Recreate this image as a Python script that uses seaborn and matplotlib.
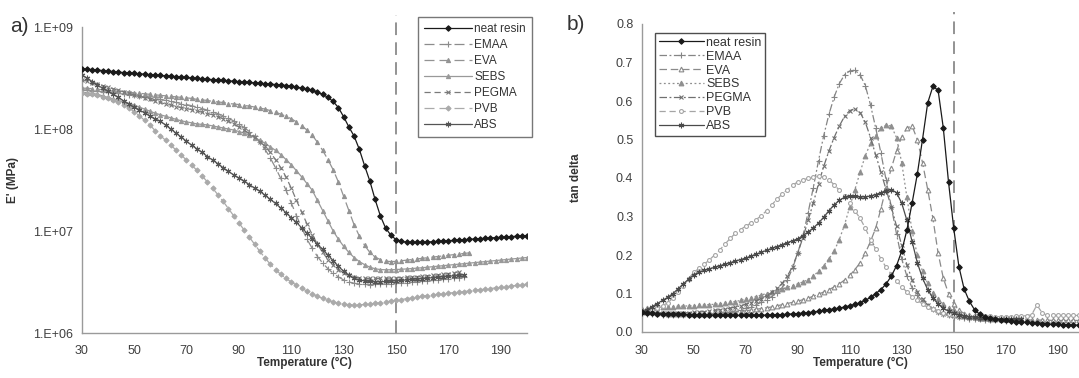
import numpy as np
import matplotlib
matplotlib.use("Agg")
import matplotlib.pyplot as plt
import seaborn as sns

sns.set_style("white")
plt.rcParams['font.family'] = ['Liberation Sans', 'DejaVu Sans']

# ---------------- data ----------------
series = ["neat resin", "EMAA", "EVA", "SEBS", "PEGMA", "PVB", "ABS"]
T_START = 30   # first temperature (°C)
T_STEP = 2     # sampling step (°C)

# (a) storage modulus E', read as log10(E') values
logE_neat = [8.59, 8.586, 8.582, 8.578, 8.573, 8.568, 8.563, 8.558, 8.553, 8.549, 8.545, 8.541, 8.537, 8.533,
             8.529, 8.525, 8.521, 8.517, 8.513, 8.509, 8.505, 8.50, 8.496, 8.492, 8.488, 8.484, 8.48, 8.476,
             8.472, 8.468, 8.464, 8.46, 8.456, 8.452, 8.448, 8.444, 8.44, 8.436, 8.432, 8.426, 8.42, 8.412,
             8.40, 8.39, 8.378, 8.36, 8.34, 8.31, 8.27, 8.21, 8.12, 8.02, 7.93, 7.80, 7.64, 7.49, 7.31, 7.15,
             7.03, 6.96, 6.915, 6.90, 6.89, 6.888, 6.888, 6.89, 6.892, 6.895, 6.898, 6.902, 6.905, 6.908,
             6.912, 6.915, 6.918, 6.922, 6.925, 6.928, 6.932, 6.935, 6.938, 6.942, 6.945, 6.948, 6.952, 6.955]
logE_emaa = [8.38, 8.378, 8.375, 8.37, 8.365, 8.36, 8.355, 8.35, 8.343, 8.336, 8.33, 8.322, 8.314, 8.306,
             8.298, 8.29, 8.28, 8.27, 8.26, 8.25, 8.24, 8.228, 8.215, 8.20, 8.185, 8.17, 8.15, 8.13, 8.105,
             8.08, 8.05, 8.015, 7.975, 7.93, 7.87, 7.80, 7.715, 7.62, 7.515, 7.40, 7.275, 7.15, 7.03, 6.92,
             6.83, 6.75, 6.685, 6.63, 6.585, 6.55, 6.52, 6.50, 6.488, 6.48, 6.476, 6.475, 6.476, 6.478, 6.48,
             6.483, 6.486, 6.49, 6.494, 6.498, 6.502, 6.506, 6.51, 6.515, 6.52, 6.526, 6.532, 6.538, 6.544, 6.55]
logE_eva = [8.40, 8.40, 8.395, 8.39, 8.385, 8.38, 8.375, 8.37, 8.365, 8.36, 8.355, 8.35, 8.345, 8.34, 8.335,
            8.33, 8.325, 8.32, 8.315, 8.31, 8.305, 8.30, 8.29, 8.285, 8.28, 8.27, 8.265, 8.26, 8.25, 8.245,
            8.24, 8.23, 8.225, 8.215, 8.205, 8.195, 8.18, 8.165, 8.145, 8.125, 8.10, 8.07, 8.03, 7.99, 7.94,
            7.87, 7.79, 7.70, 7.60, 7.48, 7.34, 7.20, 7.06, 6.95, 6.86, 6.79, 6.745, 6.72, 6.705, 6.70, 6.702,
            6.708, 6.714, 6.72, 6.726, 6.732, 6.738, 6.744, 6.75, 6.756, 6.762, 6.768, 6.774, 6.78, 6.786]
logE_sebs = [8.36, 8.355, 8.35, 8.34, 8.325, 8.31, 8.295, 8.28, 8.265, 8.25, 8.235, 8.215, 8.195, 8.175,
             8.155, 8.14, 8.125, 8.11, 8.095, 8.08, 8.07, 8.06, 8.05, 8.045, 8.04, 8.03, 8.02, 8.01, 8.00,
             7.99, 7.975, 7.96, 7.94, 7.915, 7.89, 7.86, 7.825, 7.79, 7.75, 7.70, 7.65, 7.59, 7.53, 7.465,
             7.40, 7.30, 7.20, 7.10, 7.00, 6.92, 6.85, 6.79, 6.74, 6.70, 6.67, 6.645, 6.63, 6.622, 6.62, 6.62,
             6.622, 6.625, 6.628, 6.632, 6.636, 6.64, 6.645, 6.65, 6.655, 6.66, 6.665, 6.67, 6.675, 6.68,
             6.685, 6.69, 6.695, 6.70, 6.705, 6.71, 6.715, 6.72, 6.725, 6.73, 6.735, 6.74]
logE_pegma = [8.48, 8.47, 8.455, 8.44, 8.425, 8.41, 8.395, 8.38, 8.365, 8.35, 8.335, 8.32, 8.305, 8.29,
              8.275, 8.26, 8.245, 8.235, 8.22, 8.21, 8.20, 8.19, 8.175, 8.165, 8.15, 8.14, 8.12, 8.10, 8.075,
              8.05, 8.02, 7.99, 7.955, 7.92, 7.875, 7.83, 7.77, 7.70, 7.62, 7.53, 7.42, 7.30, 7.185, 7.07,
              6.965, 6.87, 6.79, 6.72, 6.665, 6.62, 6.59, 6.565, 6.55, 6.54, 6.536, 6.535, 6.535, 6.536,
              6.537, 6.539, 6.541, 6.544, 6.547, 6.55, 6.553, 6.557, 6.561, 6.566, 6.571, 6.577, 6.583,
              6.59, 6.60]
logE_pvb = [8.35, 8.345, 8.34, 8.33, 8.315, 8.30, 8.28, 8.26, 8.235, 8.205, 8.17, 8.13, 8.085, 8.04, 7.985,
            7.935, 7.89, 7.84, 7.795, 7.745, 7.695, 7.645, 7.595, 7.54, 7.48, 7.42, 7.355, 7.29, 7.22, 7.15,
            7.08, 7.01, 6.94, 6.87, 6.80, 6.735, 6.675, 6.62, 6.575, 6.535, 6.50, 6.47, 6.44, 6.41, 6.385,
            6.36, 6.34, 6.32, 6.305, 6.29, 6.282, 6.278, 6.276, 6.276, 6.28, 6.285, 6.29, 6.297, 6.305,
            6.312, 6.32, 6.328, 6.336, 6.344, 6.352, 6.36, 6.367, 6.373, 6.379, 6.385, 6.39, 6.396, 6.40,
            6.406, 6.412, 6.418, 6.424, 6.43, 6.436, 6.442, 6.448, 6.454, 6.46, 6.466, 6.472, 6.478]
logE_abs = [8.53, 8.50, 8.465, 8.43, 8.40, 8.37, 8.34, 8.31, 8.275, 8.245, 8.215, 8.185, 8.16, 8.13, 8.10,
            8.075, 8.04, 8.00, 7.96, 7.92, 7.88, 7.84, 7.805, 7.77, 7.73, 7.695, 7.66, 7.62, 7.585, 7.55,
            7.52, 7.49, 7.455, 7.42, 7.39, 7.35, 7.31, 7.27, 7.225, 7.18, 7.13, 7.085, 7.03, 6.98, 6.925,
            6.87, 6.82, 6.765, 6.71, 6.655, 6.605, 6.565, 6.535, 6.52, 6.51, 6.505, 6.502, 6.502, 6.505,
            6.508, 6.512, 6.516, 6.52, 6.525, 6.53, 6.534, 6.538, 6.542, 6.547, 6.552, 6.556, 6.56, 6.565, 6.57]

# (b) tan delta
tan_neat = [0.052, 0.05, 0.049, 0.048, 0.047, 0.047, 0.046, 0.046, 0.046, 0.045, 0.045, 0.045, 0.044, 0.044,
            0.044, 0.044, 0.044, 0.043, 0.043, 0.043, 0.043, 0.043, 0.043, 0.043, 0.044, 0.044, 0.045, 0.045,
            0.046, 0.047, 0.048, 0.049, 0.05, 0.052, 0.054, 0.056, 0.058, 0.06, 0.062, 0.065, 0.068, 0.072,
            0.076, 0.082, 0.09, 0.10, 0.11, 0.125, 0.145, 0.172, 0.21, 0.265, 0.335, 0.41, 0.50, 0.595,
            0.638, 0.628, 0.53, 0.39, 0.27, 0.17, 0.112, 0.08, 0.058, 0.046, 0.04, 0.036, 0.034, 0.032, 0.03,
            0.028, 0.027, 0.026, 0.025, 0.024, 0.023, 0.022, 0.021, 0.02, 0.02, 0.019, 0.019, 0.018, 0.018, 0.018]
tan_emaa = [0.05, 0.048, 0.047, 0.046, 0.045, 0.044, 0.044, 0.043, 0.043, 0.043, 0.043, 0.043, 0.044, 0.045,
            0.046, 0.048, 0.05, 0.052, 0.055, 0.058, 0.062, 0.066, 0.071, 0.077, 0.084, 0.092, 0.102, 0.115,
            0.135, 0.165, 0.205, 0.25, 0.31, 0.375, 0.445, 0.51, 0.565, 0.61, 0.645, 0.668, 0.678, 0.68,
            0.668, 0.64, 0.59, 0.53, 0.465, 0.395, 0.325, 0.255, 0.19, 0.145, 0.115, 0.095, 0.08, 0.068,
            0.059, 0.052, 0.047, 0.043, 0.04, 0.038, 0.036, 0.035, 0.034, 0.033, 0.032, 0.031, 0.03, 0.03,
            0.029, 0.029, 0.028, 0.028]
tan_eva = [0.055, 0.053, 0.051, 0.05, 0.049, 0.048, 0.048, 0.047, 0.047, 0.047, 0.047, 0.047, 0.047, 0.048,
           0.048, 0.049, 0.05, 0.051, 0.052, 0.053, 0.055, 0.057, 0.059, 0.061, 0.063, 0.065, 0.068, 0.071,
           0.074, 0.077, 0.08, 0.084, 0.088, 0.093, 0.098, 0.104, 0.11, 0.117, 0.125, 0.135, 0.147, 0.162,
           0.18, 0.205, 0.235, 0.27, 0.32, 0.375, 0.425, 0.47, 0.507, 0.53, 0.535, 0.50, 0.44, 0.37, 0.295,
           0.205, 0.14, 0.10, 0.072, 0.057, 0.048, 0.042, 0.039, 0.037, 0.036, 0.035, 0.034, 0.034, 0.033,
           0.033, 0.032, 0.032, 0.032, 0.031, 0.031, 0.031, 0.031, 0.03, 0.03, 0.03, 0.03, 0.03, 0.03, 0.03]
tan_sebs = [0.06, 0.062, 0.063, 0.064, 0.065, 0.066, 0.066, 0.067, 0.067, 0.068, 0.068, 0.069, 0.07, 0.071,
            0.072, 0.073, 0.075, 0.077, 0.079, 0.082, 0.085, 0.088, 0.092, 0.096, 0.10, 0.104, 0.108, 0.112,
            0.116, 0.12, 0.125, 0.13, 0.136, 0.145, 0.158, 0.172, 0.19, 0.21, 0.24, 0.278, 0.325, 0.37,
            0.415, 0.458, 0.49, 0.51, 0.53, 0.537, 0.535, 0.505, 0.44, 0.35, 0.262, 0.20, 0.158, 0.126,
            0.102, 0.085, 0.072, 0.063, 0.056, 0.05, 0.046, 0.043, 0.041, 0.039, 0.038, 0.037, 0.036, 0.035,
            0.035, 0.034, 0.034, 0.034, 0.033]
tan_pegma = [0.055, 0.053, 0.052, 0.051, 0.05, 0.05, 0.05, 0.05, 0.05, 0.05, 0.051, 0.052, 0.053, 0.054,
             0.056, 0.058, 0.06, 0.062, 0.065, 0.068, 0.072, 0.076, 0.081, 0.087, 0.094, 0.103, 0.113, 0.126,
             0.145, 0.17, 0.205, 0.245, 0.29, 0.335, 0.385, 0.43, 0.47, 0.505, 0.535, 0.56, 0.575, 0.58,
             0.57, 0.545, 0.505, 0.46, 0.415, 0.37, 0.325, 0.275, 0.225, 0.175, 0.135, 0.105, 0.085, 0.07,
             0.06, 0.053, 0.048, 0.045, 0.042, 0.04, 0.038, 0.037, 0.036, 0.035, 0.034, 0.034, 0.033, 0.033,
             0.032, 0.032, 0.031]
tan_pvb = [0.052, 0.055, 0.058, 0.062, 0.068, 0.076, 0.088, 0.103, 0.12, 0.138, 0.155, 0.165, 0.176, 0.187,
           0.20, 0.213, 0.228, 0.243, 0.256, 0.266, 0.275, 0.283, 0.292, 0.302, 0.315, 0.33, 0.345, 0.358,
           0.37, 0.381, 0.39, 0.395, 0.399, 0.402, 0.404, 0.403, 0.395, 0.383, 0.368, 0.354, 0.336, 0.315,
           0.295, 0.27, 0.24, 0.215, 0.19, 0.168, 0.15, 0.133, 0.118, 0.104, 0.092, 0.082, 0.073, 0.065,
           0.059, 0.054, 0.05, 0.047, 0.045, 0.044, 0.043, 0.042, 0.042, 0.041, 0.041, 0.041, 0.04, 0.04,
           0.04, 0.04, 0.041, 0.042, 0.042, 0.045, 0.07, 0.05, 0.043, 0.043, 0.043, 0.043, 0.043, 0.043,
           0.043, 0.043]
tan_abs = [0.05, 0.058, 0.066, 0.074, 0.082, 0.09, 0.10, 0.112, 0.125, 0.137, 0.148, 0.155, 0.16, 0.164,
           0.168, 0.172, 0.176, 0.18, 0.184, 0.188, 0.192, 0.197, 0.202, 0.207, 0.212, 0.217, 0.222, 0.227,
           0.232, 0.237, 0.242, 0.25, 0.26, 0.27, 0.283, 0.298, 0.315, 0.33, 0.342, 0.35, 0.352, 0.352,
           0.351, 0.351, 0.353, 0.357, 0.362, 0.367, 0.37, 0.362, 0.335, 0.29, 0.235, 0.18, 0.14, 0.11,
           0.088, 0.073, 0.062, 0.054, 0.049, 0.045, 0.042, 0.04, 0.038, 0.037, 0.036, 0.035, 0.035, 0.034,
           0.034, 0.033, 0.033, 0.033]

e_data = [logE_neat, logE_emaa, logE_eva, logE_sebs, logE_pegma, logE_pvb, logE_abs]
t_data = [tan_neat, tan_emaa, tan_eva, tan_sebs, tan_pegma, tan_pvb, tan_abs]

e_ticks = [1e6, 1e7, 1e8, 1e9]
e_ticklabels = ["1.E+06", "1.E+07", "1.E+08", "1.E+09"]
t_ticks = [0.0, 0.1, 0.2, 0.3, 0.4, 0.5, 0.6, 0.7, 0.8]
x_ticks = [30, 50, 70, 90, 110, 130, 150, 170, 190]

# ---------------- styles ----------------
left_styles = {
    "neat resin": dict(color="#1a1a1a", marker="D", ms=2.8, ls="-", mfc="#1a1a1a"),
    "EMAA": dict(color="#8c8c8c", marker="+", ms=4.0, ls=(0, (8, 4)), mfc="#8c8c8c"),
    "EVA": dict(color="#939393", marker="^", ms=3.0, ls=(0, (8, 4)), mfc="#939393"),
    "SEBS": dict(color="#999999", marker="^", ms=3.0, ls="-", mfc="#999999"),
    "PEGMA": dict(color="#7a7a7a", marker="x", ms=3.2, ls=(0, (5, 3)), mfc="#7a7a7a"),
    "PVB": dict(color="#aaaaaa", marker="D", ms=2.6, ls=(0, (8, 4)), mfc="#aaaaaa"),
    "ABS": dict(color="#555555", marker=(6, 2, 0), ms=4.0, ls="-", mfc="#555555"),
}
right_styles = {
    "neat resin": dict(color="#1a1a1a", marker="D", ms=2.8, ls="-", mfc="#1a1a1a"),
    "EMAA": dict(color="#858585", marker="+", ms=4.0, ls=(0, (6, 2, 1.5, 2)), mfc="#858585"),
    "EVA": dict(color="#8a8a8a", marker="^", ms=3.4, ls=(0, (6, 3)), mfc="white"),
    "SEBS": dict(color="#8f8f8f", marker="^", ms=3.4, ls=(0, (1.5, 2)), mfc="#8f8f8f"),
    "PEGMA": dict(color="#707070", marker="x", ms=3.4, ls=(0, (6, 2, 1.5, 2)), mfc="#707070"),
    "PVB": dict(color="#a5a5a5", marker="o", ms=2.8, ls=(0, (5, 3)), mfc="white"),
    "ABS": dict(color="#4a4a4a", marker=(6, 2, 0), ms=4.0, ls="-", mfc="#4a4a4a"),
}

W, H = 1079, 378
fig = plt.figure(figsize=(W / 100, H / 100), dpi=100)

def px_axes(x0, y0, x1, y1):
    return fig.add_axes([x0 / W, 1 - y1 / H, (x1 - x0) / W, (y1 - y0) / H])

axL = px_axes(81.7, 27, 527, 333)
axR = px_axes(641.7, 24, 1079, 332)

spine_col = "#9a9a9a"
tick_col = "#404040"

def plot_panel(ax, data, styles, transform_log):
    order = list(range(len(series)))[1:] + [0]
    for i in order:
        name = series[i]
        vals = np.asarray(data[i], dtype=float)
        if transform_log:
            vals = 10 ** vals
        T = T_START + T_STEP * np.arange(len(vals))
        st = styles[name]
        sns.lineplot(x=T, y=vals, ax=ax, color=st["color"], marker=st["marker"], markersize=st["ms"],
                     linestyle=st["ls"], linewidth=0.9, markerfacecolor=st["mfc"],
                     markeredgecolor=st["color"], markeredgewidth=0.8, label=name,
                     zorder=5 if i == 0 else 3, sort=False, estimator=None)
    h, l = ax.get_legend_handles_labels()
    lut = dict(zip(l, h))
    return [lut[s] for s in series]

hL = plot_panel(axL, e_data, left_styles, True)
hR = plot_panel(axR, t_data, right_styles, False)

for ax in (axL, axR):
    for s in ("top", "right"):
        ax.spines[s].set_visible(False)
    for s in ("left", "bottom"):
        ax.spines[s].set_color(spine_col)
        ax.spines[s].set_linewidth(1.0)
    ax.set_xticks(x_ticks)
    ax.tick_params(axis="both", which="major", direction="out", length=3, width=0.8,
                   color=spine_col, labelcolor=tick_col, labelsize=9)
    ax.tick_params(axis="x", pad=6)
    ax.tick_params(axis="y", pad=3)
    ax.axvline(150, color="#8a8a8a", lw=1.3, ls=(0, (7, 4)), zorder=1, ymax=1.04, clip_on=False)

axL.set_yscale("log")
axL.set_ylim(1e6, 1e9)
axL.set_xlim(30, 200)
axL.set_yticks(e_ticks)
axL.set_yticklabels(e_ticklabels)
axL.yaxis.set_minor_locator(matplotlib.ticker.NullLocator())

axR.set_ylim(0, 0.8)
axR.set_xlim(30, 30 + (1079 - 641.7) / 2.6)
axR.set_yticks(t_ticks)
axR.set_yticklabels([f"{v:.1f}" for v in t_ticks])

axL.set_xlabel("Temperature (°C)", fontsize=8.5, fontweight="bold", color="#333333")
axR.set_xlabel("Temperature (°C)", fontsize=8.5, fontweight="bold", color="#333333")
axL.set_ylabel("E' (MPa)", fontsize=8.5, fontweight="bold", color="#333333")
axR.set_ylabel("tan delta", fontsize=8.5, fontweight="bold", color="#333333")
axL.xaxis.set_label_coords(0.5, -0.078)
axR.xaxis.set_label_coords(0.5, -0.081)
axL.yaxis.set_label_coords(-0.141, 0.5)
axR.yaxis.set_label_coords(-0.137, 0.5)

fig.text(10 / W, 1 - 27 / H, "a)", fontsize=15, color="#333333", va="center", ha="left")
fig.text(567 / W, 1 - 25 / H, "b)", fontsize=15, color="#333333", va="center", ha="left")

legL = axL.legend(hL, series, loc="upper left", bbox_to_anchor=(418 / W, 1 - 17 / H),
                  bbox_transform=fig.transFigure, fontsize=8.5, frameon=True, fancybox=False,
                  handlelength=4.0, handletextpad=0.2, labelspacing=0.33, borderpad=0.55,
                  borderaxespad=0, numpoints=1)
legL.get_frame().set_edgecolor("#555555")
legL.get_frame().set_linewidth(1.0)
for t in legL.get_texts():
    t.set_color("#333333")

legR = axR.legend(hR, series, loc="upper left", bbox_to_anchor=(655 / W, 1 - 33 / H),
                  bbox_transform=fig.transFigure, fontsize=9, frameon=True, fancybox=False,
                  handlelength=3.6, handletextpad=0.2, labelspacing=0.15, borderpad=0.3,
                  borderaxespad=0, numpoints=1)
legR.get_frame().set_edgecolor("#222222")
legR.get_frame().set_linewidth(1.0)
for t in legR.get_texts():
    t.set_color("#333333")

fig.savefig("out.png", dpi=100)
